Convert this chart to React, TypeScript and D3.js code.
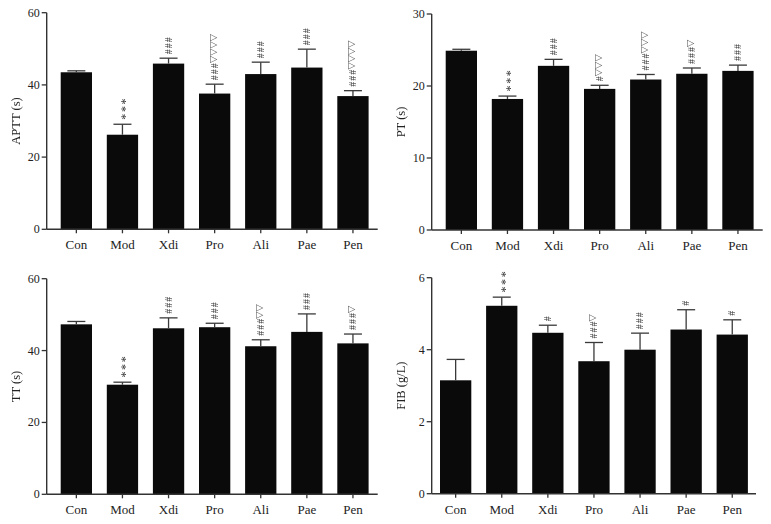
import React from "react";
import * as d3 from "d3";

const categories = ["Con", "Mod", "Xdi", "Pro", "Ali", "Pae", "Pen"];

const apttMean = [43.5, 26.2, 45.9, 37.6, 43.0, 44.8, 36.9];
const apttErr = [0.4, 2.9, 1.5, 2.6, 3.3, 5.1, 1.5];
const apttMarks = ["", "***", "###", "△△△△###", "###", "###", "△△△△###"];
const apttTicks = [0, 20, 40, 60];

const ptMean = [24.9, 18.2, 22.8, 19.6, 20.9, 21.7, 22.1];
const ptErr = [0.2, 0.4, 0.9, 0.5, 0.7, 0.8, 0.8];
const ptMarks = ["", "***", "###", "△△△#", "△△△###", "△###", "###"];
const ptTicks = [0, 10, 20, 30];

const ttMean = [47.3, 30.5, 46.2, 46.5, 41.2, 45.2, 42.0];
const ttErr = [0.8, 0.7, 2.9, 1.1, 1.8, 5.0, 2.6];
const ttMarks = ["", "***", "###", "###", "△△###", "###", "△###"];
const ttTicks = [0, 20, 40, 60];

const fibMean = [3.15, 5.22, 4.47, 3.68, 4.0, 4.56, 4.42];
const fibErr = [0.58, 0.24, 0.21, 0.52, 0.46, 0.55, 0.41];
const fibMarks = ["", "***", "#", "△###", "###", "#", "#"];
const fibTicks = [0, 2, 4, 6];

const SERIF = "'Liberation Serif', 'Times New Roman', serif";
const INK = "#222";

type PanelProps = {
  title: string;
  means: number[];
  errs: number[];
  marks: string[];
  ticks: number[];
  left: number;
  top: number;
  bottom: number;
  axisRight: number;
  barStart: number;
};

function Mark({ text, x, y }: { text: string; x: number; y: number }) {
  if (!text) return null;
  const chars = Array.from(text);
  return (
    <g filter="url(#gray)">
      <text
        transform={`translate(${x},${y}) rotate(90)`}
        textAnchor="end"
        dominantBaseline="central"
        fill="#333"
      >
        {chars.map((c, i) => {
          if (c === "△")
            return (
              <tspan key={i} fontFamily="'DejaVu Sans', sans-serif" fontSize={9.5} fill="#555">
                {c}
              </tspan>
            );
          if (c === "*")
            return (
              <tspan key={i} fontFamily={SERIF} fontSize={12} letterSpacing={1.6}>
                {c}
              </tspan>
            );
          return (
            <tspan key={i} fontFamily={SERIF} fontSize={10} letterSpacing={1}>
              {c}
            </tspan>
          );
        })}
      </text>
    </g>
  );
}

function Panel(p: PanelProps) {
  const step = 46.1;
  const bw = 31.3;
  const x = d3
    .scaleBand<string>()
    .domain(categories)
    .range([p.barStart, p.barStart + step * (categories.length - 1) + bw])
    .paddingInner(1 - bw / step)
    .paddingOuter(0);
  const yMax = p.ticks[p.ticks.length - 1];
  const y = d3.scaleLinear().domain([0, yMax]).range([p.bottom, p.top]);
  const capW = 18;
  return (
    <g>
      {categories.map((c, i) => (
        <rect
          key={c}
          x={x(c)!}
          y={y(p.means[i])}
          width={x.bandwidth()}
          height={p.bottom - y(p.means[i])}
          fill="#0a0a0a"
        />
      ))}
      {categories.map((c, i) => {
        const cx = x(c)! + x.bandwidth() / 2;
        const yt = y(p.means[i] + p.errs[i]);
        return (
          <g key={c} stroke="#3a3a3a" strokeWidth={1.3}>
            <line x1={cx} x2={cx} y1={y(p.means[i])} y2={yt} />
            <line x1={cx - capW / 2} x2={cx + capW / 2} y1={yt} y2={yt} />
          </g>
        );
      })}
      {categories.map((c, i) => (
        <Mark key={c} text={p.marks[i]} x={x(c)! + x.bandwidth() / 2} y={y(p.means[i] + p.errs[i]) - 3} />
      ))}
      <line x1={p.left} x2={p.left} y1={p.top} y2={p.bottom} stroke="#333" strokeWidth={1.4} />
      <line x1={p.left} x2={p.axisRight} y1={p.bottom} y2={p.bottom} stroke="#333" strokeWidth={1.4} />
      {p.ticks.map((t) => (
        <g key={t}>
          <line x1={p.left - 5} x2={p.left} y1={y(t)} y2={y(t)} stroke="#333" strokeWidth={1.3} />
          <text
            x={p.left - 7}
            y={y(t)}
            textAnchor="end"
            dominantBaseline="central"
            fontFamily={SERIF}
            fontSize={12}
            fill={INK}
          >
            {t}
          </text>
        </g>
      ))}
      {categories.map((c) => {
        const cx = x(c)! + x.bandwidth() / 2;
        return (
          <g key={c}>
            <line x1={cx} x2={cx} y1={p.bottom} y2={p.bottom + 4} stroke="#333" strokeWidth={1.3} />
            <text x={cx} y={p.bottom + 20} textAnchor="middle" fontFamily={SERIF} fontSize={13} fill={INK}>
              {c}
            </text>
          </g>
        );
      })}
      <g filter="url(#gray)">
        <text
          transform={`translate(${p.left - 31},${(p.top + p.bottom) / 2}) rotate(-90)`}
          textAnchor="middle"
          dominantBaseline="central"
          fontFamily={SERIF}
          fontSize={12.5}
          fill={INK}
        >
          {p.title}
        </text>
      </g>
    </g>
  );
}

export default function App() {
  return (
    <svg
      width={771}
      height={524}
      style={{ position: "absolute", left: 0, top: 0, background: "#fff" }}
    >
      <defs>
        <filter id="gray" x="-50%" y="-50%" width="200%" height="200%">
          <feColorMatrix type="saturate" values="0" />
        </filter>
      </defs>
      <Panel title="APTT (s)" means={apttMean} errs={apttErr} marks={apttMarks} ticks={apttTicks}
        left={46.7} top={12.7} bottom={229.3} axisRight={377.7} barStart={60.7} />
      <Panel title="PT (s)" means={ptMean} errs={ptErr} marks={ptMarks} ticks={ptTicks}
        left={431.7} top={14} bottom={230} axisRight={762.7} barStart={445.7} />
      <Panel title="TT (s)" means={ttMean} errs={ttErr} marks={ttMarks} ticks={ttTicks}
        left={46.7} top={278.7} bottom={494.3} axisRight={377.7} barStart={60.7} />
      <Panel title="FIB (g/L)" means={fibMean} errs={fibErr} marks={fibMarks} ticks={fibTicks}
        left={431.7} top={277.7} bottom={493.7} axisRight={756} barStart={440} />
    </svg>
  );
}
